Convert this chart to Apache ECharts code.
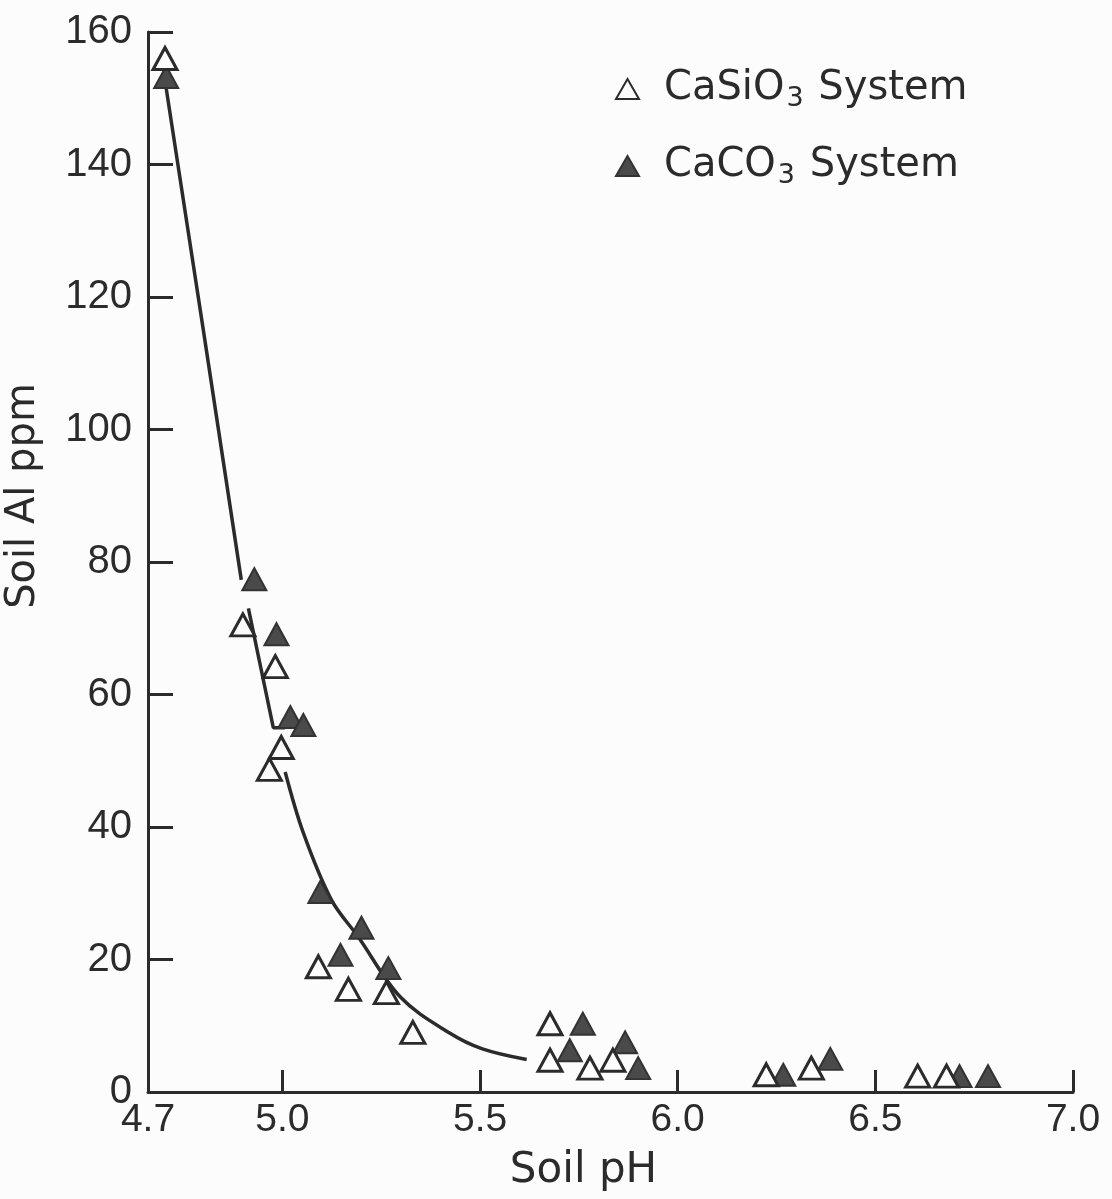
<!DOCTYPE html>
<html>
<head>
<meta charset="utf-8">
<script src="https://cdn.jsdelivr.net/npm/echarts@6/dist/echarts.min.js"></script>
<style>
html,body{margin:0;padding:0;background:#fcfcfc;}
#chart{width:1112px;height:1199px;}
</style>
</head>
<body>
<div id="chart"></div>
<script>
// Tick values
var xTickLabels = [4.66, 5.0, 5.5, 6.0, 6.5, 7.0];
var xTickMarks = [5.0, 5.5, 6.0, 6.5, 7.0];

// CaSiO3 system (open triangles): [pH, Al ppm]
var caSiO3 = [
  [4.703, 156], [4.90, 70.5], [4.982, 64.2], [4.997, 52], [4.967, 48.7],
  [5.091, 18.9], [5.167, 15.5], [5.263, 15], [5.33, 9],
  [5.677, 10.3], [5.677, 4.8], [5.778, 3.6], [5.836, 4.8],
  [6.224, 2.6], [6.338, 3.6], [6.607, 2.4], [6.68, 2.4]
];
// CaCO3 system (filled triangles)
var caCO3 = [
  [4.706, 153.2], [4.929, 77.4], [4.985, 69.1], [5.02, 56.6], [5.053, 55.4],
  [5.096, 30.2], [5.2, 24.8], [5.147, 20.7], [5.268, 18.7],
  [5.76, 10.3], [5.727, 6.3], [5.867, 7.5], [5.9, 3.6],
  [6.267, 2.6], [6.386, 5], [6.713, 2.4], [6.785, 2.4]
];
// Hand-drawn fitted curve in three pieces
var curveSeg1 = [[4.706, 151.5], [4.80, 115], [4.896, 77.3]];
var curveSeg2 = [[4.914, 73], [4.977, 55], [5.007, 55]];
var curveSeg3 = [[5.007, 48.3], [5.053, 39.1], [5.124, 29.0],
  [5.192, 23.4], [5.299, 14.3], [5.423, 8.9],
  [5.506, 6.5], [5.618, 4.9]];

var ink = '#2b2b2b';
var numFont = '"Liberation Sans", sans-serif';
var txtFont = '"DejaVu Sans", sans-serif';

var chart = echarts.init(document.getElementById('chart'));
function lineSeg(name, data, smooth) {
  return {
    name: name, type: 'line', data: data, symbol: 'none', smooth: smooth,
    lineStyle: {color: ink, width: 3.5}, z: 1, silent: true
  };
}
chart.setOption({
  backgroundColor: '#fcfcfc',
  animation: false,
  grid: {left: 148, right: 39, top: 32, bottom: 107, containLabel: false, outerBoundsMode: 'none'},
  legend: {
    orient: 'vertical', left: 610, top: 64, itemGap: 34,
    itemWidth: 23, itemHeight: 20,
    data: ['CaSiO3 System', 'CaCO3 System'],
    formatter: function (n) {
      var base = n.replace('3 System', '');
      return '{a|' + base + '}{s|3}{b| System}';
    },
    textStyle: {
      color: ink, fontFamily: txtFont, fontSize: 40,
      rich: {
        a: {fontSize: 40, fontFamily: txtFont, color: ink, padding: [0, 0, 0, 20]},
        b: {fontSize: 40, fontFamily: txtFont, color: ink},
        s: {fontSize: 27, fontFamily: txtFont, color: ink, padding: [19, 2, 0, 2]}
      }
    }
  },
  xAxis: {
    type: 'value', min: 4.66, max: 7.0,
    name: 'Soil pH', nameLocation: 'middle', nameGap: 58,
    nameTextStyle: {fontFamily: txtFont, fontSize: 42, color: ink, padding: [0, 54, 0, 0]},
    axisLine: {lineStyle: {color: ink, width: 3}},
    axisTick: {show: true, inside: true, length: 22, lineStyle: {color: ink, width: 3}, customValues: xTickMarks},
    axisLabel: {customValues: xTickLabels, fontFamily: numFont, fontSize: 39, color: ink, margin: 9,
      formatter: function (v) { return v.toFixed(1); }},
    splitLine: {show: false}
  },
  yAxis: {
    type: 'value', min: 0, max: 160, interval: 20,
    name: 'Soil Al ppm', nameLocation: 'middle', nameGap: 104,
    nameTextStyle: {fontFamily: txtFont, fontSize: 40, color: ink, padding: [0, 0, 0, 132]},
    axisLine: {show: true, lineStyle: {color: ink, width: 3}},
    axisTick: {show: true, inside: true, length: 25, lineStyle: {color: ink, width: 3}},
    axisLabel: {fontFamily: numFont, fontSize: 40, color: ink, margin: 16},
    splitLine: {show: false}
  },
  series: [
    lineSeg('fit1', curveSeg1, false), lineSeg('fit2', curveSeg2, false), lineSeg('fit3', curveSeg3, 0.35),
    {
      name: 'CaSiO3 System', type: 'scatter', data: caSiO3, symbol: 'triangle', symbolSize: [24, 22],
      itemStyle: {color: '#fcfcfc', borderColor: ink, borderWidth: 3, opacity: 1}, z: 3
    },
    {
      name: 'CaCO3 System', type: 'scatter', data: caCO3, symbol: 'triangle', symbolSize: [24, 22],
      itemStyle: {color: '#4a4a4a', borderColor: '#333', borderWidth: 2, opacity: 1}, z: 2
    }
  ]
});
</script>
</body>
</html>
